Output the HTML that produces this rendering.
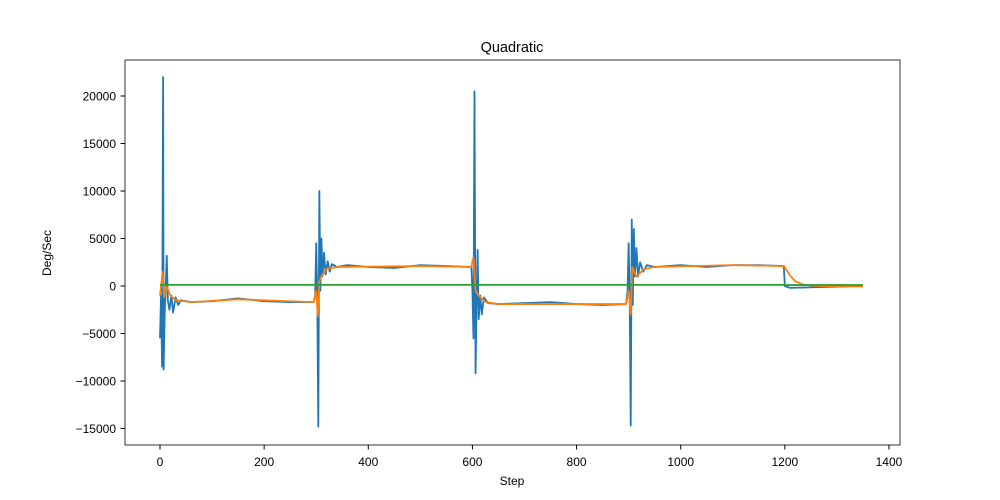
<!DOCTYPE html>
<html><head><meta charset="utf-8"><style>
body{margin:0;background:#fff}
svg{display:block;font-family:"Liberation Sans","DejaVu Sans",sans-serif}
</style></head><body>
<svg id="chart" width="1000" height="500">
<rect width="1000" height="500" fill="#fff"/>
<text x="512" y="52" text-anchor="middle" font-size="14.5">Quadratic</text>
<g id="marks"></g>
<rect x="125" y="60" width="775" height="385" fill="none" stroke="#000" stroke-width="0.8"/>
<g id="xticks"></g>
<g id="yticks"></g>
<text x="512" y="485" text-anchor="middle" font-size="12">Step</text>
<text transform="translate(51,253) rotate(-90)" text-anchor="middle" font-size="12">Deg/Sec</text>
</svg>
<script>
const xTicks=[0,200,400,600,800,1000,1200,1400];
const yTicks=[-15000,-10000,-5000,0,5000,10000,15000,20000];
const blueSteps=[0,2,4,6,7,9,11,13,15,18,22,25,30,35,40,60,100,150,200,250,295,298,300,302,304,306,308,310,312,315,318,322,326,330,340,360,400,450,500,550,598,600,602,604,606,608,610,612,615,618,622,630,650,700,750,800,850,895,898,900,902,904,906,908,910,912,915,918,922,928,935,950,1000,1050,1100,1150,1198,1200,1210,1350];
const blueVals=[-5500,-1000,-8500,22000,-8800,-3000,0,3200,-1500,-2500,-1000,-2800,-1200,-2000,-1500,-1700,-1600,-1300,-1600,-1700,-1700,-1000,4500,-1000,-14800,10000,-500,5000,1000,3500,1200,2600,1500,2300,2000,2200,2000,1900,2200,2100,2000,-500,-5500,20500,-9200,-2000,3800,-3500,-1000,-3000,-1200,-1800,-1900,-1800,-1700,-1900,-2000,-1900,-500,4500,-1000,-14700,7000,-2000,6000,1000,4000,1000,2500,1500,2200,2000,2200,2000,2200,2200,2100,0,-200,0];
const orangeSteps=[0,5,8,12,20,30,60,150,295,300,303,306,310,320,340,500,598,600,602,606,612,625,650,800,895,900,904,907,915,930,950,1100,1198,1203,1210,1220,1235,1260,1350];
const orangeVals=[-1000,1500,-1200,0,-1000,-1500,-1700,-1400,-1700,-500,-3200,500,1000,1800,2000,2100,2000,2600,3000,-500,-1000,-1700,-1900,-1900,-1900,-500,-3000,2000,1000,1800,2000,2200,2100,1700,1100,500,150,0,-50];
const greenSteps=[0,1199,1200,1350];
const greenVals=[120,120,100,100];
const X=v=>160+v*0.5207, Y=v=>286-v*0.0095;
const NS="http://www.w3.org/2000/svg";
const marks=document.getElementById('marks');
function line(xs,ys,color,name){
  const p=document.createElementNS(NS,'polyline');
  p.setAttribute('points',xs.map((x,i)=>X(x)+','+Y(ys[i])).join(' '));
  p.setAttribute('fill','none');p.setAttribute('stroke',color);p.setAttribute('stroke-width','1.8');
  p.setAttribute('stroke-linejoin','round');
  
  
  marks.appendChild(p);
}
line(blueSteps,blueVals,'#1f77b4','series-blue');
line(orangeSteps,orangeVals,'#ff7f0e','series-orange');
line(greenSteps,greenVals,'#2ca02c','series-green');
const xg=document.getElementById('xticks');
xTicks.forEach(t=>{
  const l=document.createElementNS(NS,'line');
  l.setAttribute('x1',X(t));l.setAttribute('x2',X(t));l.setAttribute('y1',445);l.setAttribute('y2',449.5);l.setAttribute('stroke','#000');
  
  
  xg.appendChild(l);
  const s=document.createElementNS(NS,'text');
  s.setAttribute('x',X(t));s.setAttribute('y',466);s.setAttribute('text-anchor','middle');s.setAttribute('font-size','12');
  s.textContent=t;
  
  
  xg.appendChild(s);
});
const yg=document.getElementById('yticks');
yTicks.forEach(t=>{
  const l=document.createElementNS(NS,'line');
  l.setAttribute('x1',120.5);l.setAttribute('x2',125);l.setAttribute('y1',Y(t));l.setAttribute('y2',Y(t));l.setAttribute('stroke','#000');
  
  
  yg.appendChild(l);
  const s=document.createElementNS(NS,'text');
  s.setAttribute('x',116);s.setAttribute('y',Y(t)+4.5);s.setAttribute('text-anchor','end');s.setAttribute('font-size','12');
  s.textContent=t<0?'\u2212'+(-t):t;
  
  
  yg.appendChild(s);
});
</script>
</body></html>
